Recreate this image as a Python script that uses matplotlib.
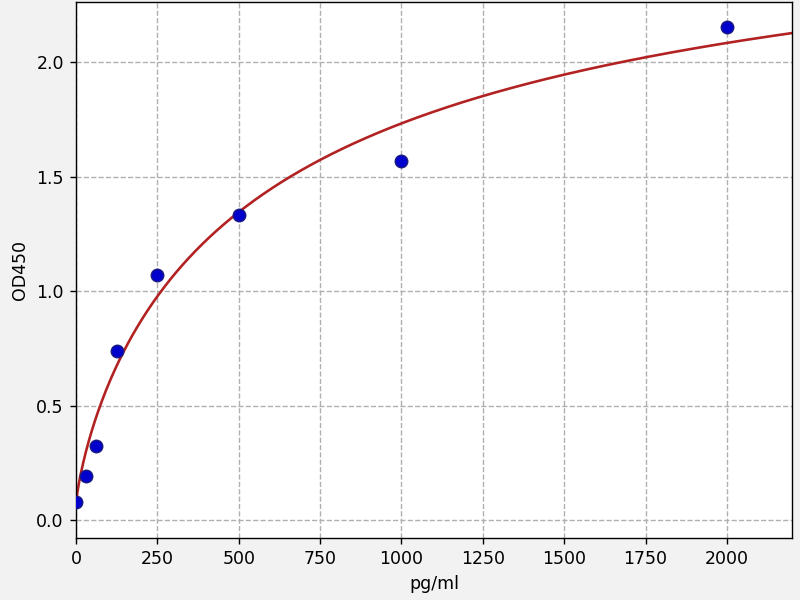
import numpy as np
import matplotlib
matplotlib.use("Agg")
import matplotlib.pyplot as plt

# standard points (concentration in pg/ml, OD at 450nm)
conc = [0, 31.25, 62.5, 125, 250, 500, 1000, 2000]
od450 = [0.077, 0.194, 0.322, 0.737, 1.069, 1.335, 1.571, 2.157]

# fitted 4PL parameters (bottom, slope, midpoint, top)
fit_a = 0.07
fit_b = 0.8
fit_c = 635.0
fit_d = 2.89


def four_pl(x, a, b, c, d):
    return d + (a - d) / (1 + (x / c) ** b)


# original looks like a 640x480 figure blown up to 800x600
fig = plt.figure(figsize=(6.4, 4.8), dpi=125, facecolor="#f2f2f2")
ax = fig.add_axes([0.095, 0.103, 0.895, 0.894])

xs = np.linspace(0, 2200, 500)
ax.plot(xs, four_pl(xs, fit_a, fit_b, fit_c, fit_d), color="#b22222", lw=1.5, zorder=2)
ax.scatter(conc, od450, color="#0000cc", edgecolors="#1a1a80", linewidths=0.8, s=52, zorder=3)

ax.set_xlim(0, 2200)
ax.set_ylim(-0.08, 2.265)
ax.set_xticks([0, 250, 500, 750, 1000, 1250, 1500, 1750, 2000])
ax.set_yticks([0.0, 0.5, 1.0, 1.5, 2.0])
ax.grid(True, linestyle="--", color="#b0b0b0", lw=0.8)
ax.set_axisbelow(True)
ax.set_xlabel("pg/ml")
ax.set_ylabel("OD450")

fig.savefig("out.png", dpi=125, facecolor=fig.get_facecolor())
